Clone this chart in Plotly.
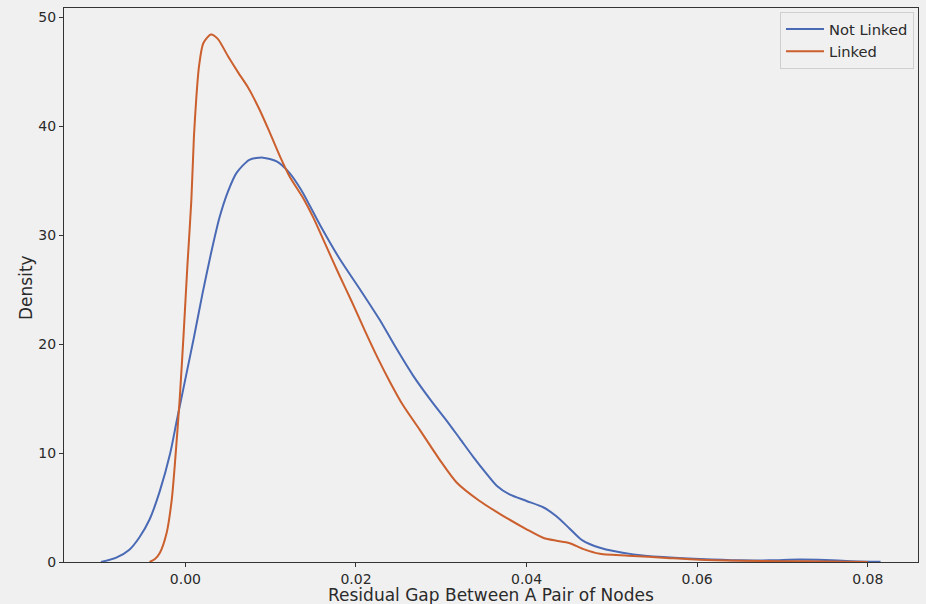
import plotly.graph_objects as go

# Not Linked (blue) KDE curve
blue_x = [-0.0099, -0.0081, -0.0066, -0.0054, -0.0042, -0.0030, -0.0018, -0.0010, 0.0000,
          0.0010, 0.0020, 0.0030, 0.0040, 0.0050, 0.0060, 0.0075, 0.0091, 0.0107, 0.0122,
          0.0136, 0.0158, 0.0181, 0.0204, 0.0228, 0.0245, 0.0267, 0.0290, 0.0306, 0.0322,
          0.0337, 0.0352, 0.0365, 0.0380, 0.0400, 0.0420, 0.0435, 0.0450, 0.0465, 0.0486,
          0.0525, 0.0560, 0.0603, 0.0650, 0.0685, 0.0720, 0.0750, 0.0780, 0.0815]
blue_y = [0.0, 0.4, 1.1, 2.25, 3.9, 6.5, 9.9, 13.0, 16.8,
          20.6, 24.6, 28.3, 31.6, 34.0, 35.7, 36.9, 37.1, 36.75, 35.7,
          34.1, 30.9, 27.8, 25.1, 22.2, 19.9, 17.1, 14.6, 13.0, 11.3,
          9.7, 8.2, 7.0, 6.2, 5.6, 5.0, 4.2, 3.1, 2.0, 1.3,
          0.7, 0.45, 0.27, 0.15, 0.15, 0.22, 0.18, 0.08, 0.02]

# Linked (orange) KDE curve
orange_x = [-0.0042, -0.0036, -0.0030, -0.0022, -0.0016, -0.00125, -0.00067, -0.0002, 0.00023,
            0.0007, 0.0010, 0.0013, 0.0016, 0.0021, 0.0030, 0.0038, 0.0050, 0.0062, 0.0073,
            0.0087, 0.0099, 0.0111, 0.0122, 0.0138, 0.0150, 0.0165, 0.0180, 0.0195, 0.0210,
            0.0225, 0.0240, 0.0255, 0.0275, 0.0298, 0.0318, 0.0345, 0.0369, 0.0400, 0.0420,
            0.0435, 0.0450, 0.0466, 0.0486, 0.0525, 0.0560, 0.0603, 0.0650, 0.0700, 0.0750,
            0.0800]
orange_y = [0.0, 0.25, 0.83, 2.66, 5.7, 8.8, 14.9, 21.0, 27.1,
            33.2, 39.0, 42.8, 45.5, 47.6, 48.4, 48.0, 46.4, 44.9, 43.6,
            41.5, 39.4, 37.2, 35.4, 33.4, 31.6, 29.0, 26.4, 23.9, 21.3,
            18.8, 16.5, 14.4, 12.1, 9.4, 7.3, 5.6, 4.4, 3.0, 2.2,
            1.95, 1.75, 1.2, 0.75, 0.55, 0.4, 0.21, 0.12, 0.08, 0.05,
            0.0]

x_ticks = [0.00, 0.02, 0.04, 0.06, 0.08]
x_tick_labels = ["0.00", "0.02", "0.04", "0.06", "0.08"]
y_ticks = [0, 10, 20, 30, 40, 50]
series_names = ["Not Linked", "Linked"]
x_title = "Residual Gap Between A Pair of Nodes"
y_title = "Density"

BLUE = "#4a6ab5"
ORANGE = "#cb5f2d"
BG = "#f0f0f0"
TXT = "#2a2a2a"
FONT = "DejaVu Sans"

fig = go.Figure()
fig.add_trace(go.Scatter(x=blue_x, y=blue_y, mode="lines", name=series_names[0],
                         line=dict(color=BLUE, width=2, shape="spline", smoothing=0.7)))
fig.add_trace(go.Scatter(x=orange_x, y=orange_y, mode="lines", name=series_names[1],
                         line=dict(color=ORANGE, width=2, shape="spline", smoothing=0.7)))

axis_common = dict(showgrid=False, zeroline=False, showline=True, linecolor="#333333",
                   linewidth=1, mirror=True, ticks="outside", ticklen=4,
                   tickcolor="#333333", tickfont=dict(size=14), automargin=False)

fig.update_layout(
    width=926, height=604,
    paper_bgcolor=BG, plot_bgcolor=BG,
    margin=dict(l=64, r=8, t=8, b=42, autoexpand=False),
    font=dict(family=FONT, size=14, color=TXT),
    showlegend=True,
    legend=dict(x=0.8384, xanchor="left", y=0.9928, yanchor="top",
                bgcolor=BG, bordercolor="#cfcfcf", borderwidth=1,
                font=dict(family=FONT, size=14.7, color=TXT),
                tracegroupgap=0, itemwidth=38),
    xaxis=dict(range=[-0.01423, 0.08589], tickvals=x_ticks, ticktext=x_tick_labels,
               **axis_common),
    yaxis=dict(range=[0, 50.83], tickvals=y_ticks, **axis_common),
    annotations=[
        dict(text=x_title, xref="paper", yref="paper", x=0.5, y=0,
             xanchor="center", yanchor="middle", yshift=-33, showarrow=False,
             font=dict(family=FONT, size=17, color=TXT)),
        dict(text=y_title, xref="paper", yref="paper", x=0, y=0.5,
             xanchor="center", yanchor="middle", xshift=-38.5, yshift=-2.5,
             textangle=-90, showarrow=False,
             font=dict(family=FONT, size=17, color=TXT)),
    ],
)

fig.write_html(
    "out.html",
    config={"displayModeBar": False},
    post_script="document.body.style.margin='0';document.body.style.background='#f0f0f0';"
                "document.documentElement.style.background='#f0f0f0';"
                "document.body.style.overflow='hidden';",
)
